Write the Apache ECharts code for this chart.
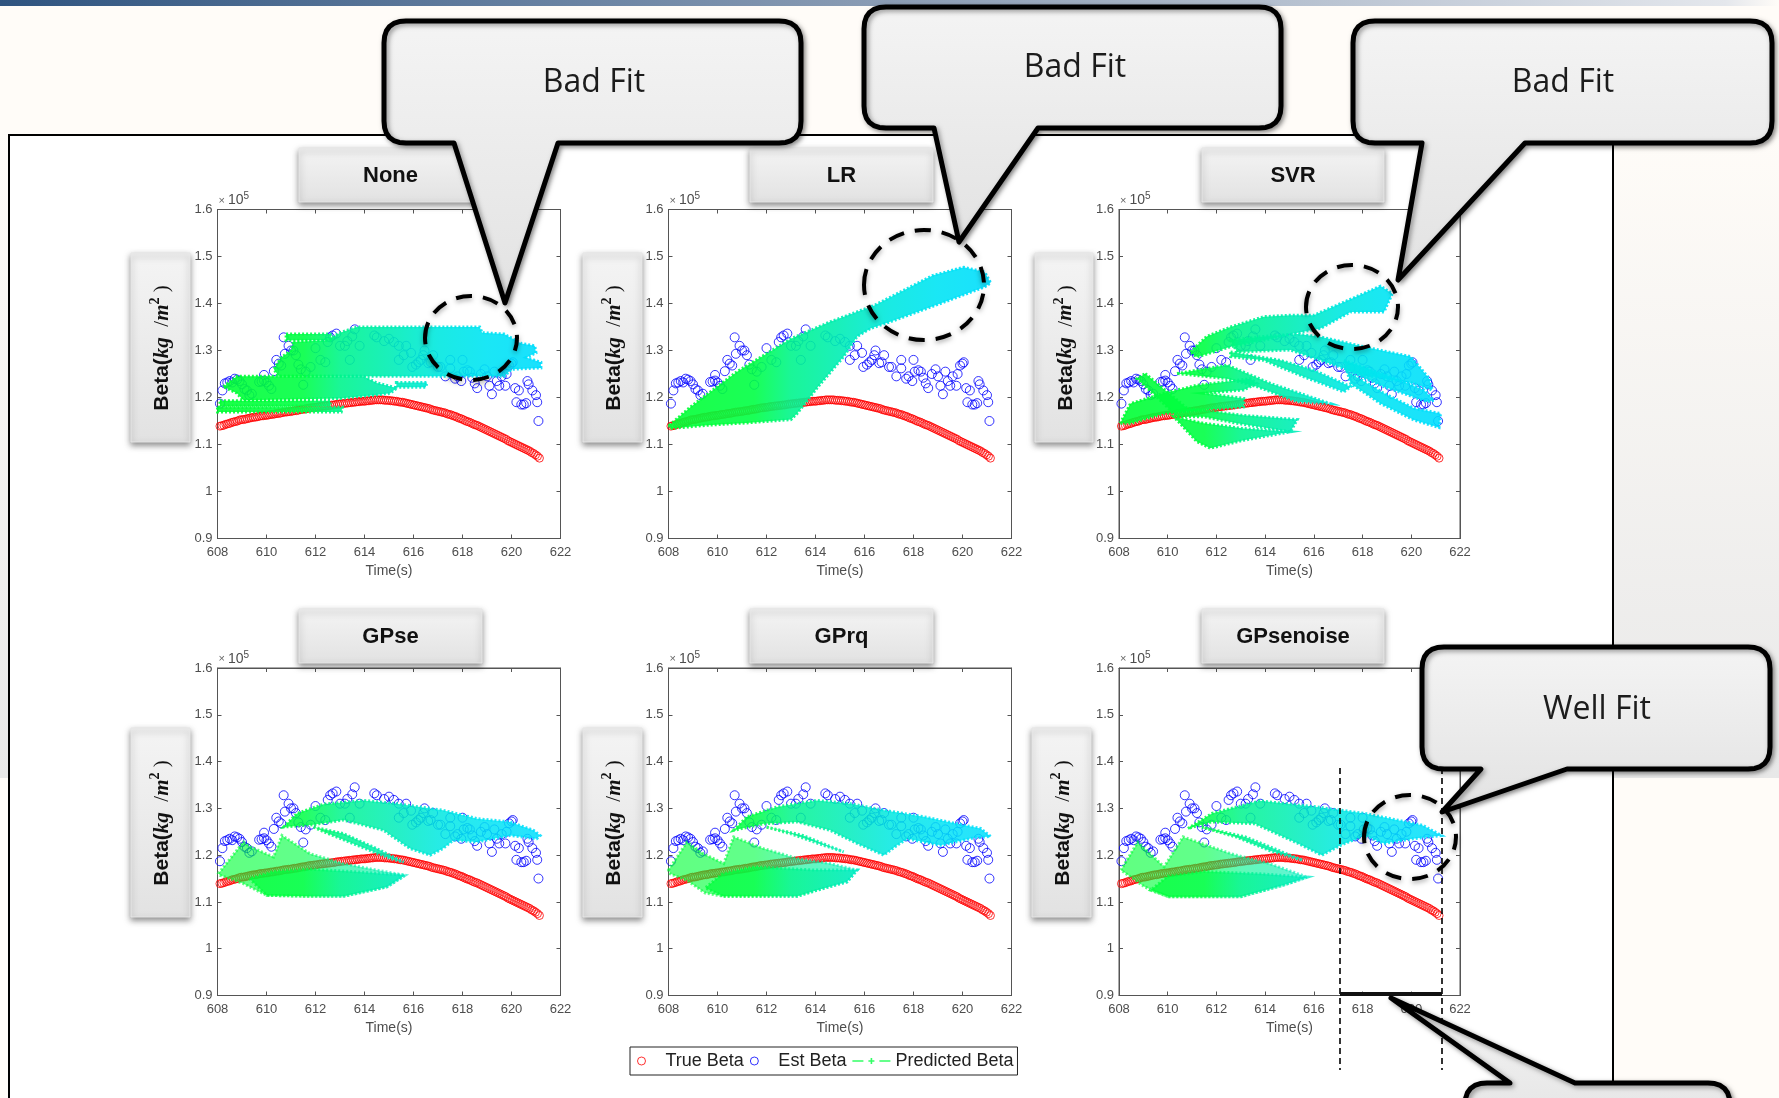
<!DOCTYPE html>
<html><head><meta charset="utf-8"><title>Beta prediction</title>
<style>html,body{margin:0;padding:0;background:#fffcf8}#c{width:1779px;height:1098px}</style>
<script src="https://cdn.jsdelivr.net/npm/echarts@6/dist/echarts.min.js"></script>
</head><body><div id="c"></div>
<script>
// ---------- values (Beta in units of 1e5 kg/m^2) ----------
const panelNames = ['None','LR','SVR','GPse','GPrq','GPsenoise'];
const legendNames = ['True Beta','Est Beta','Predicted Beta'];

const trueTime = [608.10,608.18,608.26,608.34,608.42,608.50,608.58,608.66,608.74,608.82,608.90,608.98,
609.06,609.14,609.22,609.30,609.38,609.46,609.54,609.62,609.70,609.78,609.86,609.94,
610.02,610.10,610.18,610.26,610.34,610.42,610.50,610.58,610.66,610.74,610.82,610.90,610.98,
611.06,611.14,611.22,611.30,611.38,611.46,611.54,611.62,611.70,611.78,611.86,611.94,
612.02,612.10,612.18,612.26,612.34,612.42,612.50,612.58,612.66,612.74,612.82,612.90,612.98,
613.06,613.14,613.22,613.30,613.38,613.46,613.54,613.62,613.70,613.78,613.86,613.94,
614.02,614.10,614.18,614.26,614.34,614.42,614.50,614.58,614.66,614.74,614.82,614.90,614.98,
615.06,615.14,615.22,615.30,615.38,615.46,615.54,615.62,615.70,615.78,615.86,615.94,
616.02,616.10,616.18,616.26,616.34,616.42,616.50,616.58,616.66,616.74,616.82,616.90,616.98,
617.06,617.14,617.22,617.30,617.38,617.46,617.54,617.62,617.70,617.78,617.86,617.94,
618.02,618.10,618.18,618.26,618.34,618.42,618.50,618.58,618.66,618.74,618.82,618.90,618.98,
619.06,619.14,619.22,619.30,619.38,619.46,619.54,619.62,619.70,619.78,619.86,619.94,
620.02,620.10,620.18,620.26,620.34,620.42,620.50,620.58,620.66,620.74,620.82,620.90,620.98,621.06,621.14];
const trueBeta = [1.139,1.140,1.141,1.143,1.144,1.145,1.147,1.148,1.149,1.150,1.152,1.153,
1.153,1.154,1.155,1.156,1.157,1.158,1.158,1.159,1.160,1.161,1.161,1.162,
1.162,1.163,1.164,1.164,1.165,1.166,1.166,1.167,1.168,1.169,1.169,1.170,1.170,
1.171,1.172,1.172,1.173,1.174,1.175,1.175,1.176,1.177,1.178,1.178,1.179,
1.179,1.180,1.181,1.181,1.182,1.182,1.183,1.183,1.184,1.184,1.185,1.186,1.186,
1.187,1.187,1.188,1.188,1.189,1.189,1.190,1.190,1.191,1.191,1.192,1.192,
1.192,1.193,1.193,1.194,1.194,1.195,1.195,1.195,1.195,1.195,1.194,1.194,1.194,
1.193,1.193,1.192,1.192,1.191,1.190,1.190,1.189,1.188,1.187,1.186,1.185,
1.184,1.183,1.182,1.181,1.180,1.179,1.178,1.177,1.176,1.174,1.173,1.172,1.171,
1.170,1.169,1.168,1.167,1.165,1.164,1.163,1.161,1.160,1.158,1.156,1.155,
1.153,1.151,1.149,1.148,1.146,1.144,1.142,1.141,1.139,1.137,1.135,1.133,1.131,
1.129,1.127,1.125,1.123,1.121,1.119,1.117,1.115,1.113,1.111,1.108,1.106,
1.104,1.102,1.100,1.098,1.096,1.094,1.092,1.090,1.088,1.086,1.083,1.081,1.078,1.075,1.071];

const estTime = [608.1,608.2,608.3,608.4,608.5,608.6,608.7,608.8,608.9,609.0,609.1,609.2,609.3,609.4,609.7,609.8,609.9,610.0,609.9,610.1,610.2,610.3,610.4,610.5,610.6,610.7,610.75,610.9,611.0,611.1,611.2,611.3,611.5,611.4,611.6,611.8,612.0,612.2,612.4,612.5,612.6,612.7,612.85,613.0,613.2,613.3,613.5,613.6,613.4,613.8,614.4,614.5,614.8,615.0,615.2,615.4,615.7,615.4,615.6,615.9,615.95,616.1,616.2,616.4,616.45,616.3,616.6,616.8,616.7,617.0,617.1,617.3,617.5,617.5,617.7,617.8,617.95,618.0,618.05,618.2,618.3,618.4,618.5,618.6,618.75,618.9,619.0,619.1,619.2,619.3,619.4,619.5,619.6,619.75,619.8,619.9,620.0,620.05,620.15,620.2,620.3,620.4,620.5,620.6,620.65,620.7,620.85,621.0,621.05,621.1];
const estBeta = [1.187,1.215,1.230,1.232,1.235,1.232,1.240,1.238,1.235,1.228,1.218,1.215,1.205,1.208,1.233,1.234,1.236,1.232,1.248,1.225,1.218,1.256,1.280,1.272,1.268,1.328,1.293,1.310,1.300,1.300,1.290,1.270,1.227,1.260,1.255,1.265,1.305,1.280,1.275,1.318,1.328,1.332,1.336,1.310,1.310,1.320,1.330,1.345,1.280,1.310,1.332,1.328,1.320,1.325,1.318,1.310,1.310,1.280,1.290,1.295,1.265,1.270,1.275,1.290,1.300,1.280,1.273,1.290,1.275,1.265,1.265,1.245,1.280,1.262,1.240,1.245,1.235,1.280,1.255,1.258,1.255,1.242,1.230,1.220,1.250,1.260,1.245,1.225,1.207,1.255,1.235,1.225,1.245,1.225,1.250,1.268,1.272,1.275,1.220,1.190,1.215,1.185,1.185,1.188,1.235,1.228,1.215,1.205,1.190,1.150];

// Predicted Beta: outlines [time, beta] of the dense predicted clouds of each panel
const nonePredicted = [
 [[608.24,1.223],[608.79,1.245],[613.96,1.245],[614.5,1.231],[615.32,1.22],[615.05,1.209],[614.37,1.205],[613.0,1.198],[609.06,1.194],[608.79,1.209]],
 [[615.3,1.232],[616.55,1.232],[616.5,1.222],[615.3,1.222]],
 [[608.1,1.193],[612.6,1.193],[612.6,1.182],[608.1,1.182]],
 [[608.0,1.179],[613.1,1.179],[613.05,1.169],[608.0,1.169]],
 [[610.8,1.335],[612.6,1.335],[612.7,1.322],[610.8,1.322]],
 [[611.1,1.318],[612.5,1.322],[613,1.338],[613.7,1.35],[618.7,1.35],[618.8,1.338],[619.7,1.335],[620.4,1.315],[620.95,1.31],[621.0,1.295],[620.6,1.285],[621.2,1.275],[621.2,1.263],[620.0,1.26],[619.7,1.245],[610.5,1.245],[610.3,1.26],[610.6,1.285],[611,1.3]]
];
const lrPredicted = [
 [[608.04,1.141],[608.9,1.18],[610.8,1.255],[613,1.325],[614.6,1.361],[616.4,1.396],[618.8,1.46],[620.05,1.477],[620.9,1.467],[621.15,1.444],[620.9,1.435],[619.1,1.4],[617.05,1.361],[616.25,1.347],[615.7,1.33],[615.15,1.287],[614.06,1.22],[613.25,1.166],[613,1.153],[611.2,1.146],[609.6,1.141],[608.07,1.134]]
];
const svrPredicted = [
 [[610.93,1.297],[611.6,1.33],[612.58,1.35],[613.95,1.372],[615.04,1.375],[616,1.375],[618.74,1.437],[619.22,1.421],[618.88,1.382],[617.51,1.382],[616.27,1.347],[615.18,1.336],[613.95,1.322],[612.58,1.308],[611.2,1.286]],
 [[612.58,1.322],[613.95,1.33],[615.32,1.335],[616.27,1.329],[618.05,1.308],[619.97,1.287],[620.73,1.241],[620.86,1.216],[620.11,1.23],[618.05,1.248],[616.68,1.272],[615.04,1.301],[612.85,1.297]],
 [[617.23,1.279],[619.15,1.244],[620.52,1.216],[620.93,1.194],[620.66,1.191],[618.88,1.223],[617.37,1.258]],
 [[617.37,1.255],[618.88,1.209],[620.11,1.177],[621.2,1.166],[621.14,1.136],[620.11,1.152],[618.74,1.187],[617.51,1.23]],
 [[612.58,1.297],[614.63,1.279],[616,1.258],[617.51,1.223],[617.23,1.212],[615.59,1.244],[613.95,1.279],[612.58,1.287]],
 [[610.38,1.251],[612.44,1.269],[614.22,1.23],[616.68,1.187],[615.32,1.191],[613.67,1.223],[612.44,1.24]],
 [[609.08,1.251],[609.56,1.23],[610.79,1.177],[613.12,1.162],[615.32,1.153],[615.04,1.127],[612.85,1.145],[611.48,1.159],[610.38,1.159],[609.56,1.201],[608.74,1.24]],
 [[610.25,1.159],[611.48,1.145],[613.12,1.134],[615.04,1.127],[613.12,1.109],[611.75,1.092],[611.2,1.106]],
 [[608.05,1.145],[608.47,1.187],[609.84,1.209],[611.2,1.226],[613.4,1.24],[613.67,1.23],[613.12,1.216],[611.48,1.209],[613.12,1.198],[613.12,1.18],[611.2,1.173],[609.84,1.166],[608.47,1.145]]
];
const gpseUpper = [
 [[610.7,1.26],[611.24,1.289],[612.33,1.309],[613.96,1.317],[615.32,1.31],[617.2,1.296],[618.6,1.278],[619.95,1.271],[620.9,1.253],[621.17,1.242],[621.03,1.235],[619.95,1.242],[618.58,1.228],[617.63,1.232],[617.2,1.214],[616.68,1.2],[615.86,1.214],[614.78,1.253],[613.14,1.275],[611.9,1.265]],
 [[611.92,1.26],[613.14,1.246],[614.5,1.214],[615.6,1.185],[615.05,1.193],[613.7,1.221],[612.33,1.25]]
];
const gpseLower = [
 [[608.04,1.161],[609.06,1.228],[609.33,1.218],[610.29,1.196],[610.63,1.242],[611.78,1.203],[613.14,1.182],[614.5,1.168],[615.66,1.157],[614.91,1.132],[613.14,1.112],[611.78,1.112],[610.01,1.114],[609.06,1.139],[608.1,1.157]]
];
const gpseCore = [
 [[610.01,1.114],[611.78,1.112],[613.14,1.112],[614.91,1.132],[615.66,1.157],[613.5,1.165],[611.8,1.17],[610.3,1.165],[609.3,1.15]]
];
const gprqUpper = [
 [[610.66,1.253],[611.2,1.282],[612.43,1.303],[614.06,1.317],[615.43,1.31],[616.8,1.296],[618.42,1.282],[619.78,1.267],[620.74,1.257],[621.15,1.24],[620.47,1.237],[619.1,1.221],[617.74,1.235],[617.33,1.221],[616.79,1.2],[615.7,1.225],[614.6,1.253],[613.25,1.271],[611.88,1.267]],
 [[612,1.26],[613.5,1.242],[615.15,1.207],[614.33,1.221],[612.97,1.246]]
];
const gprqLower = [
 [[608,1.168],[608.75,1.228],[609.43,1.203],[610.25,1.182],[610.66,1.239],[611.88,1.214],[613.25,1.193],[614.6,1.182],[615.7,1.168],[615.29,1.143],[614.06,1.125],[613.25,1.112],[610.25,1.112],[609.5,1.119],[608.75,1.146],[608.07,1.16]]
];
const gprqCore = [
 [[610.25,1.112],[613.25,1.112],[614.06,1.125],[615.29,1.143],[615.7,1.168],[614.0,1.168],[611.5,1.175],[610.2,1.16],[609.5,1.13]]
];
const noiseUpper = [
 [[610.83,1.257],[611.81,1.289],[613.78,1.316],[616.13,1.303],[618.1,1.289],[620.46,1.264],[621.24,1.242],[620.06,1.235],[618.88,1.225],[618.1,1.242],[617.1,1.221],[616.33,1.2],[615.35,1.225],[613.58,1.267],[611.81,1.271]],
 [[611.4,1.26],[613.19,1.239],[615.54,1.189],[614.17,1.21],[612.79,1.239]]
];
const noiseLower = [
 [[608.08,1.168],[608.77,1.228],[609.85,1.175],[610.63,1.239],[612.6,1.203],[614.17,1.182],[615.74,1.153],[614.76,1.136],[612.99,1.111],[610.04,1.111],[609.06,1.132]]
];
const noiseCore = [
 [[610.04,1.111],[612.99,1.111],[614.76,1.136],[615.74,1.153],[613.8,1.16],[611.5,1.165],[610,1.155],[609.3,1.125]]
];
const panelBands = [
 [nonePredicted],[lrPredicted],[svrPredicted],
 [gpseUpper,gpseLower,gpseCore],[gprqUpper,gprqLower,gprqCore],[noiseUpper,noiseLower,noiseCore]
];

// ---------- layout ----------
const plotX = [[217.5,343],[668.5,343],[1119,341]];
const plotY = [[209.5,329],[668,327.5]];
const tickCol = '#555', sans = '"Liberation Sans",Arial,sans-serif';
const timeStops = [[608,'#00ff33'],[611.5,'#00ff44'],[613,'#00f58c'],[615,'#00eeb4'],[617,'#00e8e0'],[619,'#00e4f4'],[621.5,'#00dcff']];

const grids=[],xAxes=[],yAxes=[],series=[];
panelNames.forEach((nm,i)=>{
  const c=plotX[i%3], r=plotY[i<3?0:1];
  grids.push({left:c[0],top:r[0],width:c[1],height:r[1],show:true,backgroundColor:'#fff',borderColor:tickCol,borderWidth:1});
  const common={min:608,max:622,interval:2,type:'value',gridIndex:i,splitLine:{show:false},
    axisLine:{show:true,lineStyle:{color:tickCol}},axisTick:{show:true,inside:true,length:4,lineStyle:{color:tickCol}}};
  const commonY={min:0.9,max:1.6,interval:0.1,type:'value',gridIndex:i,splitLine:{show:false},
    axisLine:{show:true,lineStyle:{color:tickCol}},axisTick:{show:true,inside:true,length:4,lineStyle:{color:tickCol}}};
  xAxes.push({...common,position:'bottom',name:'Time(s)',nameLocation:'middle',nameGap:26,
    nameTextStyle:{color:'#4d4d4d',fontSize:14,fontFamily:sans},
    axisLabel:{color:'#4d4d4d',fontSize:13,fontFamily:sans,margin:7,showMinLabel:true,showMaxLabel:true}});
  xAxes.push({...common,position:'top',axisLabel:{show:false}});
  yAxes.push({...commonY,position:'left',
    axisLabel:{color:'#4d4d4d',fontSize:13,fontFamily:sans,margin:5,showMinLabel:true,showMaxLabel:true,
      formatter:v=>Math.abs(v-1)<1e-6?'1':v.toFixed(1)}});
  yAxes.push({...commonY,position:'right',axisLabel:{show:false}});
  const xi=i*2, yi=i*2;
  series.push({name:legendNames[0],type:'scatter',xAxisIndex:xi,yAxisIndex:yi,z:3,symbol:'circle',symbolSize:8,clip:false,
    itemStyle:{color:'transparent',borderColor:'#ff0000',borderWidth:1},
    data:trueTime.map((t,k)=>[t,trueBeta[k]])});
  series.push({name:legendNames[1],type:'scatter',xAxisIndex:xi,yAxisIndex:yi,z:4,symbol:'circle',symbolSize:9,clip:false,
    itemStyle:{color:'transparent',borderColor:'#0000ff',borderWidth:1},
    data:estTime.map((t,k)=>[t,estBeta[k]])});
  // one custom series per cloud family so each family can carry its own density
  panelBands[i].forEach((fam,fi)=>{
    const alpha = panelBands[i].length===1 ? 0.9 : [0.85,0.62,0.75][fi];
    series.push({name:legendNames[2],type:'custom',xAxisIndex:xi,yAxisIndex:yi,z:5,clip:false,
      itemStyle:{color:'#33ff66'},
      encode:{x:0,y:1},
      data:fam.map(b=>[b[0][0],b[0][1]]),
      renderItem:(params,api)=>{
        const x0=api.coord([608,1.2])[0], x1=api.coord([621.5,1.2])[0];
        const grad={type:'linear',x:x0,y:0,x2:x1,y2:0,global:true,
          colorStops:timeStops.map(s=>({offset:(s[0]-608)/13.5,color:s[1]}))};
        const pts=fam[params.dataIndex].map(p=>api.coord(p));
        return {type:'polygon',shape:{points:pts},
          style:{fill:grad,opacity:alpha,stroke:grad,lineWidth:3,lineDash:[2,2]}};
      }});
  });
});

// ---------- annotations of the slide ----------
const boxGrad={type:'linear',x:0,y:0,x2:0,y2:1,colorStops:[{offset:0,color:'#f4f4f4'},{offset:1,color:'#e2e2e2'}]};
const g=[];
g.push({type:'rect',z:-20,shape:{x:0,y:0,width:1779,height:1098},style:{fill:'#fffcf8'}});
g.push({type:'rect',z:-19,shape:{x:0,y:130,width:1779,height:648},style:{fill:{type:'linear',x:0,y:0,x2:0,y2:1,colorStops:[{offset:0,color:'#fffcf8'},{offset:1,color:'#e8e8e8'}]}}});
g.push({type:'rect',z:-18,shape:{x:0,y:0,width:1779,height:6},style:{fill:{type:'linear',x:0,y:0,x2:1,y2:0,colorStops:[{offset:0,color:'#2f5480'},{offset:0.5,color:'#8b9db5'},{offset:0.97,color:'#e4e7ec'},{offset:1,color:'#fffcf8'}]}}});
g.push({type:'rect',z:-17,shape:{x:9,y:135,width:1604,height:980},style:{fill:'#ffffff',stroke:'#000',lineWidth:2}});

function labelBox(x,y,w,h){
  return {type:'rect',z:6,shape:{x,y,width:w,height:h},
    style:{fill:boxGrad,stroke:'#e6e6e6',lineWidth:1,shadowBlur:6,shadowOffsetY:3,shadowOffsetX:0,shadowColor:'rgba(0,0,0,0.45)'}};
}
const titleX=[[299,183],[750,183],[1202,182]];
const titleY=[148,609];
panelNames.forEach((nm,i)=>{
  const c=titleX[i%3], y=titleY[i<3?0:1];
  g.push(labelBox(c[0],y,c[1],54));
  g.push({type:'text',z:7,x:c[0]+c[1]/2,y:y+28,style:{text:nm,fontFamily:sans,fontWeight:'bold',fontSize:22,fill:'#111',align:'center',verticalAlign:'middle'}});
});
const ybX=[[131,59],[583,59],[1035,58],[131,59],[583,59],[1032,59]];
const ybY=[253,728];
panelNames.forEach((nm,i)=>{
  const c=ybX[i], y=ybY[i<3?0:1];
  g.push(labelBox(c[0],y,c[1],189));
  g.push({type:'text',z:7,x:c[0]+c[1]/2+2,y:y+95,rotation:Math.PI/2,
    style:{text:'{a|Beta(}{b|kg}{c|  /}{b|m}{s|2}{c| )}',align:'center',verticalAlign:'middle',fill:'#111',
      rich:{a:{fontFamily:sans,fontWeight:'bold',fontSize:21,lineHeight:28,fill:'#111'},
            b:{fontFamily:'"Liberation Serif",serif',fontWeight:'bold',fontStyle:'italic',fontSize:21,lineHeight:28,fill:'#111'},
            c:{fontFamily:'"Liberation Serif",serif',fontSize:21,lineHeight:28,fill:'#111'},
            s:{fontFamily:'"Liberation Serif",serif',fontWeight:'bold',fontSize:14,lineHeight:28,verticalAlign:'top',fill:'#111'}}}});
});
panelNames.forEach((nm,i)=>{
  const c=plotX[i%3], r=plotY[i<3?0:1];
  g.push({type:'text',z:7,x:c[0]+1,y:r[0]-9,
    style:{text:'{x|× }{t|10}{e|5}',align:'left',verticalAlign:'middle',
      rich:{x:{fontFamily:sans,fontSize:11,fill:'#666',lineHeight:18},
            t:{fontFamily:sans,fontSize:14,fill:'#4d4d4d',lineHeight:18},
            e:{fontFamily:sans,fontSize:10,fill:'#4d4d4d',lineHeight:18,verticalAlign:'top'}}}});
});

// rounded speech bubble outline as a polygon
function corner(p,cx0,cy0,cx,cy,cx1,cy1){
  for(let k=0;k<=6;k++){const s=k/6,a=(1-s)*(1-s),b=2*s*(1-s),d=s*s;
    p.push([a*cx0+b*cx+d*cx1,a*cy0+b*cy+d*cy1]);}
}
function bubble(x0,y0,x1,y1,tail){
  const r=22,p=[];
  corner(p,x0,y0+r,x0,y0,x0+r,y0);
  if(tail&&tail.side==='top'){p.push([tail.a,y0],[tail.tx,tail.ty],[tail.b,y0]);}
  corner(p,x1-r,y0,x1,y0,x1,y0+r);
  corner(p,x1,y1-r,x1,y1,x1-r,y1);
  if(tail&&tail.side==='bottom'){p.push([tail.b,y1],[tail.tx,tail.ty],[tail.a,y1]);}
  corner(p,x0+r,y1,x0,y1,x0,y1-r);
  return p;
}
function addCallout(points,text,cx,cy){
  g.push({type:'polygon',z:30,shape:{points},
    style:{fill:boxGrad,stroke:'#000',lineWidth:5,lineJoin:'round',shadowBlur:5,shadowOffsetX:2,shadowOffsetY:2,shadowColor:'rgba(0,0,0,0.4)'}});
  if(text) g.push({type:'text',z:31,x:cx,y:cy,style:{text,fontFamily:'"Open Sans",sans-serif',fontSize:32,fill:'#1c1c1c',align:'center',verticalAlign:'middle'}});
}
function ring(cx,cy,rx,ry){
  g.push({type:'ellipse',z:20,shape:{cx,cy,rx,ry},style:{fill:null,stroke:'#000',lineWidth:4,lineDash:[16,11],shadowBlur:5,shadowColor:'rgba(0,0,0,0.35)',shadowOffsetY:2}});
}
ring(471,338,46,42); ring(924,285,60,55); ring(1352,307,46,42); ring(1410,837,46,42);
[1340,1442].forEach(x=>g.push({type:'line',z:21,shape:{x1:x,y1:768,x2:x,y2:1070},style:{stroke:'#000',lineWidth:1.6,lineDash:[6,4]}}));
g.push({type:'rect',z:21,shape:{x:1340,y:992,width:102,height:4},style:{fill:'#111'}});
addCallout(bubble(384,21,801,143,{side:'bottom',a:454,b:558,tx:505,ty:303}),'Bad Fit',594,83);
addCallout(bubble(864,7,1281,128,{side:'bottom',a:934,b:1038,tx:959,ty:242}),'Bad Fit',1075,68);
addCallout(bubble(1353,21,1772,143,{side:'bottom',a:1422,b:1525,tx:1398,ty:280}),'Bad Fit',1563,83);
addCallout(bubble(1422,647,1770,769,{side:'bottom',a:1481,b:1567,tx:1442,ty:812}),'Well Fit',1597,710);
addCallout(bubble(1465,1083,1730,1150,{side:'top',a:1510,b:1575,tx:1391,ty:998}),'',0,0);

const chart=echarts.init(document.getElementById('c'),null,{renderer:'canvas'});
chart.setOption({
  animation:false,backgroundColor:'#fffcf8',
  grid:grids,xAxis:xAxes,yAxis:yAxes,series,
  legend:{show:true,left:630,top:1047,padding:[5,4,5,7],itemGap:6,itemWidth:38,itemHeight:8,orient:'horizontal',z:25,
    backgroundColor:'#fff',borderColor:'#222',borderWidth:1,selectedMode:false,
    textStyle:{fontFamily:sans,fontSize:18,color:'#222'},
    data:[{name:legendNames[0],icon:'circle',itemStyle:{color:'transparent',borderColor:'#ff0000',borderWidth:1}},
          {name:legendNames[1],icon:'circle',itemStyle:{color:'transparent',borderColor:'#0000ff',borderWidth:1}},
          {name:legendNames[2],icon:'path://M0,3.2H11V4.8H0Z M16,3.2H22V4.8H16Z M27,3.2H38V4.8H27Z M18.2,1H19.8V7H18.2Z',itemStyle:{color:'#33ff66',borderWidth:0}}]},
  graphic:{elements:g}
});
</script></body></html>
